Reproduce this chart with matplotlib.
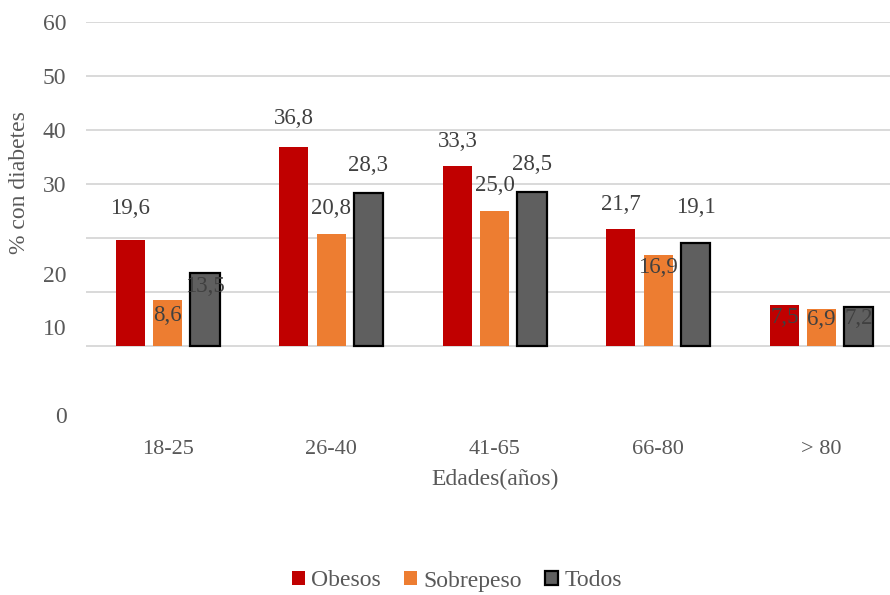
import matplotlib
matplotlib.use("Agg")
import matplotlib.pyplot as plt
from matplotlib.patches import Patch
import numpy as np

plt.rcParams['font.family'] = ['Liberation Serif', 'DejaVu Serif']

categories = ["18-25", "26-40", "41-65", "66-80", "> 80"]
series_names = ["Obesos", "Sobrepeso", "Todos"]
obesos = [19.6, 36.8, 33.3, 21.7, 7.5]
sobrepeso = [8.6, 20.8, 25.0, 16.9, 6.9]
todos = [13.5, 28.3, 28.5, 19.1, 7.2]

y_tick_labels = ["60", "50", "40", "30", "20", "10", "0"]
# vertical placement of the y tick labels (data units)
y_tick_pos = [60, 50, 40, 30, 13.3, 3.6, -12.7]

# vertical offsets (pixels) of each value label from its bar top
label_dy = [
    [32, 29, 25, 24, -12],
    [-16, 25, 25, -13, -11],
    [-13, 28, 28, 35, -11],
]

colors = ["#C00000", "#ED7D31", "#5F5F5F"]
edgecolors = ["none", "none", "#000000"]
text_col = "#404040"
axis_text = "#595959"

fig = plt.figure(figsize=(8.9, 5.95), dpi=100)
ax = fig.add_axes([86 / 890, 1 - 425 / 595, 1 - 86 / 890, (425 - 22) / 595])

x = np.arange(len(categories))
width = 0.178
step = 0.228
values = [obesos, sobrepeso, todos]

for gv in range(0, 61, 10):
    ax.axhline(gv, color="#D9D9D9", lw=1.4, zorder=0)

for i, (vals, c, ec) in enumerate(zip(values, colors, edgecolors)):
    xs = x + (i - 1) * step
    ax.bar(xs, vals, width, color=c, edgecolor=ec,
           linewidth=1.6 if ec != "none" else 0, zorder=2,
           label=series_names[i])
    for j, (bx, v) in enumerate(zip(xs, vals)):
        ax.annotate(f"{v:.1f}".replace(".", ","), (bx, v),
                    xytext=(0, label_dy[i][j]), textcoords="offset pixels",
                    ha="center", va="center", fontsize=16.5, color=text_col,
                    zorder=3)

ax.set_xlim(-0.5, 4.418)
ax.set_ylim(-14.63, 60)
for s in ax.spines.values():
    s.set_visible(False)

ax.set_yticks(y_tick_pos)
ax.set_yticklabels(y_tick_labels, fontsize=17, color=axis_text)
ax.set_xticks(x)
ax.set_xticklabels(categories, fontsize=16, color=axis_text)
ax.tick_params(axis="both", length=0)
ax.tick_params(axis="y", pad=14)
ax.tick_params(axis="x", pad=11)

fig.text(20 / 890, 1 - 183 / 595, "% con diabetes", rotation=90,
         ha="center", va="center", fontsize=17, color=axis_text)
fig.text(495 / 890, 1 - 479 / 595, "Edades(años)", ha="center",
         va="center", fontsize=17, color=axis_text)

handles = [Patch(facecolor=colors[0], edgecolor="none"),
           Patch(facecolor=colors[1], edgecolor="none"),
           Patch(facecolor=colors[2], edgecolor="#000000", linewidth=1.6)]
leg = fig.legend(handles, series_names, loc="center",
                 bbox_to_anchor=(457 / 890, 1 - 581 / 595), ncol=3,
                 frameon=False, fontsize=17, handlelength=0.55,
                 handleheight=0.55, handletextpad=0.25, columnspacing=1.0)
for t in leg.get_texts():
    t.set_color(axis_text)

fig.savefig("out.png", dpi=100)
